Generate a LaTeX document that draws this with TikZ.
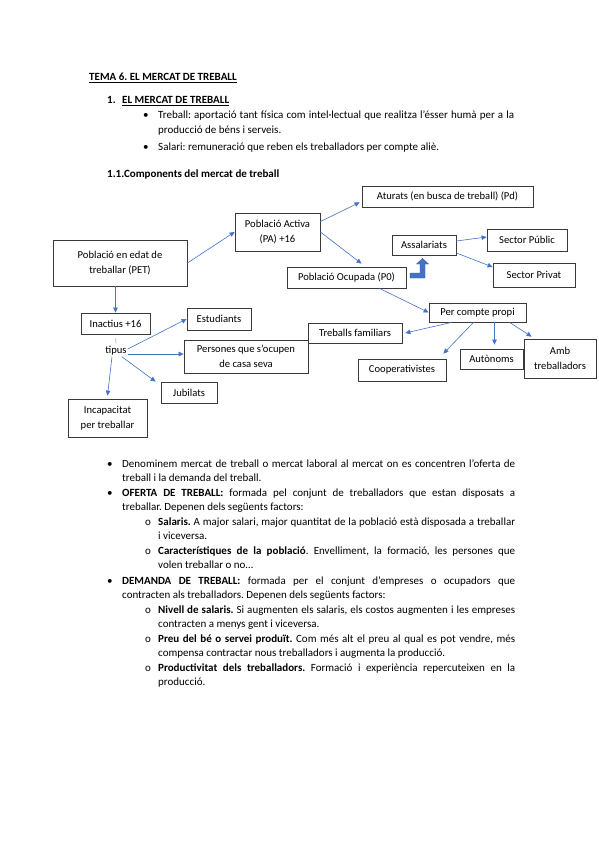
\documentclass[tikz,border=0pt]{standalone}
\usepackage{fontspec}
\setmainfont{Carlito}
\usetikzlibrary{arrows.meta,positioning,calc}
\definecolor{arrowblue}{HTML}{4472C4}
\definecolor{boxline}{HTML}{3A3A3A}
\frenchspacing

\begin{document}
\begin{tikzpicture}[x=1pt, y=-1pt, >={Triangle[length=5pt,width=4.5pt]},
    font=\fontsize{10.6}{14.5}\selectfont,
    box/.style={draw=boxline, line width=0.8pt, fill=white, align=center, inner sep=1pt},
    link/.style={->, draw=arrowblue, line width=0.6pt},
    body/.style={font=\fontsize{11}{14}\selectfont, inner sep=0pt, anchor=base west},
    para/.style={body, align=justify}]
\useasboundingbox[fill=white] (0,0) rectangle (599,848);

% headings
\node[body] (tema) at (89,81) {\textbf{\underline{TEMA 6. EL MERCAT DE TREBALL}}};
\node[body] (num1) at (107,104) {\textbf{1.}};
\node[body] (head1) at (122,104) {\textbf{\underline{EL MERCAT DE TREBALL}}};
\node[body] (dot1) at (143,119) {•};
\node[para, text width=356pt] (treball) at (158,119) {Treball: aportació tant física com intel·lectual que realitza l’ésser humà per a la\linebreak producció de béns i serveis.};
\node[body] (dot2) at (143,150) {•};
\node[body] (salari) at (158,150) {Salari: remuneració que reben els treballadors per compte aliè.};
\node[body] (head11) at (107,177) {\textbf{1.1.Components del mercat de treball}};

% diagram boxes
\node[box, minimum width=134pt, minimum height=46pt] (pet) at (120,263) {Població en edat de\\treballar (PET)};
\node[box, minimum width=85pt, minimum height=38pt] (pa) at (277.5,232) {Població Activa\\(PA) +16};
\node[box, minimum width=171pt, minimum height=21pt] (aturats) at (447.5,196.5) {Aturats (en busca de treball) (Pd)};
\node[box, minimum width=64pt, minimum height=20pt] (assal) at (424,245) {Assalariats};
\node[box, minimum width=80pt, minimum height=22pt] (public) at (527,240) {Sector Públic};
\node[box, minimum width=82pt, minimum height=24pt] (privat) at (534,275) {Sector Privat};
\node[box, minimum width=119pt, minimum height=21pt] (po) at (346.5,277.5) {Població Ocupada (P0)};
\node[box, minimum width=97pt, minimum height=19pt] (propi) at (477.5,312.5) {Per compte propi};
\node[box, minimum width=94pt, minimum height=20pt] (famil) at (355,333) {Treballs familiars};
\node[box, minimum width=88pt, minimum height=22pt] (coop) at (402,370) {Cooperativistes};
\node[box, minimum width=63pt, minimum height=20pt] (auton) at (491.5,359) {Autònoms};
\node[box, minimum width=72pt, minimum height=39pt] (amb) at (560,358.5) {Amb\\treballadors};
\node[box, minimum width=69pt, minimum height=21pt] (inact) at (115.5,323.5) {Inactius +16};
\node[inner sep=1pt] (tipus) at (116,351) {tipus};
\node[box, minimum width=64pt, minimum height=22pt] (estud) at (219,319) {Estudiants};
\node[box, minimum width=124pt, minimum height=33pt] (casa) at (246,356.5) {Persones que s’ocupen\\de casa seva};
\node[box, minimum width=56pt, minimum height=21pt] (jubil) at (189,392.5) {Jubilats};
\node[box, minimum width=79pt, minimum height=38pt] (incap) at (107.5,418) {Incapacitat\\per treballar};

% connectors
\draw[link] (pet.east) -- (pa.west);
\draw[link] (inact.north |- pet.south) -- (inact.north);
\draw[link] ([yshift=-9pt]pa.north east) -- ([shift={(-2pt,5pt)}]aturats.south west);
\draw[link] (pa.east) -- ([shift={(15pt,3pt)}]po.north);
\draw[link] ([yshift=4pt]assal.east) -- ([yshift=3pt]public.west);
\draw[link] ([yshift=-8pt]assal.east) -- ([yshift=8pt]privat.west);
\draw[link] ([xshift=33pt]po.south) -- (propi.west);
\draw[link] ([xshift=-26pt]propi.south) -- ([xshift=3pt]famil.east);
\draw[link] ([xshift=-4pt]propi.south) -- ([shift={(-3pt,5pt)}]coop.north east);
\draw[link, shorten >=4pt] ([xshift=3pt]auton.north |- propi.south) -- ([xshift=3pt]auton.north);
\draw[link] ([xshift=32pt]propi.south) -- ([shift={(8pt,2pt)}]amb.north west);
\draw[arrowblue!60, line width=0.6pt, shorten <=4pt, shorten >=2pt] (inact.south) -- (tipus.north);
\draw[link] ([yshift=2pt]tipus.east) -- (estud.west);
\draw[link] ([yshift=-3pt]tipus.east) -- ([yshift=-3pt]tipus.east -| casa.west);
\draw[link] ([xshift=-6pt]tipus.south east) -- ([xshift=-5pt]jubil.north west);
\draw[link] ([xshift=-4pt]tipus.south) -- ([yshift=3pt]incap.north);

% bent arrow between P0 and Assalariats
\filldraw[fill=arrowblue, draw=arrowblue!80!black, line width=0.4pt]
  (410,273) -- (420,273) -- (420,264) -- (416.5,264) -- (422.5,258.5) -- (428.5,264)
  -- (425,264) -- (425,278) -- (410,278) -- cycle;

% text below
\node[body] (dot3) at (107,467) {•};
\node[para, text width=393pt] (denom) at (122,467) {Denominem mercat de treball o mercat laboral al mercat on es concentren l’oferta de\linebreak treball i la demanda del treball.};
\node[body] (dot4) at (107,496) {•};
\node[para, text width=393pt] (oferta) at (122,496) {\textbf{OFERTA DE TREBALL:} formada pel conjunt de treballadors que estan disposats a\linebreak treballar. Depenen dels següents factors:};
\node[body] (o1) at (145,525) {o};
\node[para, text width=357pt] (salaris) at (158,525) {\textbf{Salaris.} A major salari, major quantitat de la població està disposada a treballar\linebreak i viceversa.};
\node[body] (o2) at (145,554) {o};
\node[para, text width=357pt] (caract) at (158,554) {\textbf{Característiques de la població}. Envelliment, la formació, les persones que\linebreak volen treballar o no…};
\node[body] (dot5) at (107,584) {•};
\node[para, text width=393pt] (demanda) at (122,584) {\textbf{DEMANDA DE TREBALL:} formada per el conjunt d’empreses o ocupadors que\linebreak contracten als treballadors. Depenen dels següents factors:};
\node[body] (o3) at (145,613) {o};
\node[para, text width=357pt] (nivell) at (158,613) {\textbf{Nivell de salaris.} Si augmenten els salaris, els costos augmenten i les empreses\linebreak contracten a menys gent i viceversa.};
\node[body] (o4) at (145,642) {o};
\node[para, text width=357pt] (preu) at (158,642) {\textbf{Preu del bé o servei produït.} Com més alt el preu al qual es pot vendre, més\linebreak compensa contractar nous treballadors i augmenta la producció.};
\node[body] (o5) at (145,671) {o};
\node[para, text width=357pt] (product) at (158,671) {\textbf{Productivitat dels treballadors.} Formació i experiència repercuteixen en la\linebreak producció.};
\end{tikzpicture}
\end{document}
